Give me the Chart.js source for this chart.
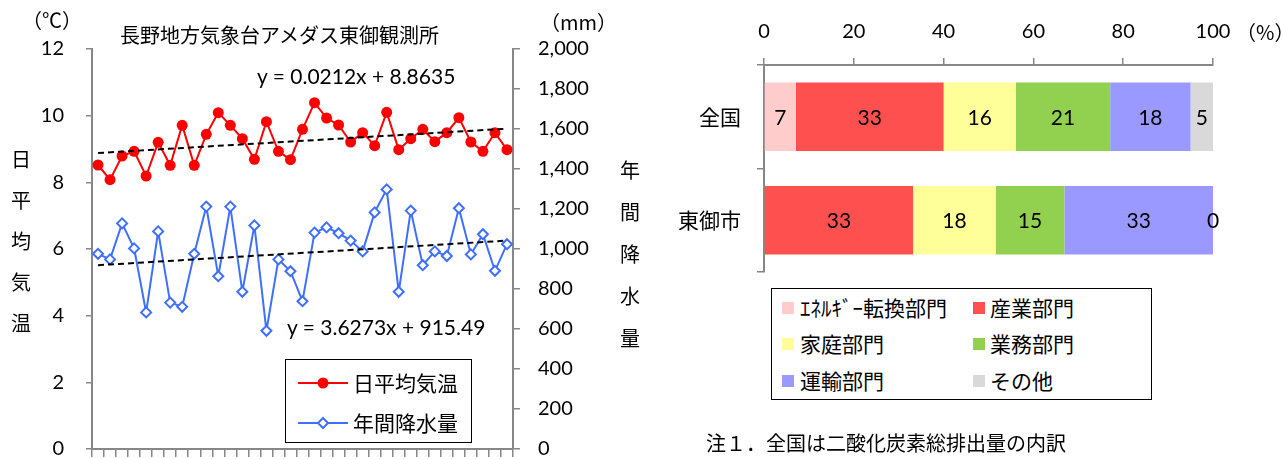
<!DOCTYPE html>
<html lang="ja">
<head>
<meta charset="utf-8">
<script src="https://cdn.jsdelivr.net/npm/chart.js@4.4.0/dist/chart.umd.min.js"></script>
<style>
  body { margin: 0; width: 1283px; height: 459px; background: #fff; position: relative; overflow: hidden;
         font-family: "Noto Sans CJK JP", sans-serif; color: #000; }
  .pane { position: absolute; }
  .t { position: absolute; white-space: nowrap; line-height: 1; }
  .num { font-family: Lato, sans-serif; }
  .vert { position: absolute; width: 22px; text-align: center; }
  .legend { position: absolute; border: 1.5px solid #000; box-sizing: border-box; background: #fff; }
  .sw { position: absolute; width: 12px; height: 12px; }
</style>
</head>
<body>

<div class="pane" style="left:0;top:0;width:660px;height:459px"><canvas id="chartTemp"></canvas></div>
<div class="pane" style="left:660px;top:0;width:623px;height:459px"><canvas id="chartCO2"></canvas></div>

<!-- left chart texts -->
<div class="t" style="left:22px;top:10px;font-size:20px">（℃）</div>
<div class="t" style="left:120px;top:25px;font-size:20px">長野地方気象台アメダス東御観測所</div>
<div class="t" style="left:540px;top:12px;font-size:20px">（mm）</div>
<div class="vert" style="left:10px;top:138px;font-size:20px;line-height:41px">日<br>平<br>均<br>気<br>温</div>
<div class="vert" style="left:619px;top:149px;font-size:20px;line-height:42px">年<br>間<br>降<br>水<br>量</div>
<div class="t num" style="left:257px;top:65px;font-size:21px">y = 0.0212x + 8.8635</div>
<div class="t num" style="left:287px;top:316px;font-size:21px">y = 3.6273x + 915.49</div>

<div class="legend" style="left:285px;top:359px;width:187px;height:84px">
  <svg style="position:absolute;left:12px;top:14px" width="52" height="18">
    <line x1="0" y1="9" x2="50" y2="9" stroke="#FF0000" stroke-width="2"/>
    <circle cx="25" cy="9" r="5.5" fill="#FF0000"/>
  </svg>
  <div class="t" style="left:67px;top:12px;font-size:21px">日平均気温</div>
  <svg style="position:absolute;left:12px;top:54px" width="52" height="18">
    <line x1="0" y1="9" x2="50" y2="9" stroke="#3F6FFF" stroke-width="2"/>
    <path d="M25 4 L30 9 L25 14 L20 9 Z" fill="#fff" stroke="#3F6FFF" stroke-width="2"/>
  </svg>
  <div class="t" style="left:67px;top:52px;font-size:21px">年間降水量</div>
</div>

<!-- right chart texts -->
<div class="t" style="left:1236px;top:22px;font-size:20px">（%）</div>

<div class="legend" style="left:771px;top:288px;width:381px;height:112px">
  <div class="sw" style="left:10px;top:13px;background:#FFCCCC"></div>
  <div class="t" style="left:28px;top:8px;font-size:21px">ｴﾈﾙｷﾞｰ転換部門</div>
  <div class="sw" style="left:201px;top:13px;background:#FF5050"></div>
  <div class="t" style="left:218px;top:8px;font-size:21px">産業部門</div>
  <div class="sw" style="left:10px;top:49px;background:#FFFF99"></div>
  <div class="t" style="left:28px;top:44px;font-size:21px">家庭部門</div>
  <div class="sw" style="left:201px;top:49px;background:#92D050"></div>
  <div class="t" style="left:218px;top:44px;font-size:21px">業務部門</div>
  <div class="sw" style="left:10px;top:86px;background:#9999FF"></div>
  <div class="t" style="left:28px;top:81px;font-size:21px">運輸部門</div>
  <div class="sw" style="left:201px;top:86px;background:#D9D9D9"></div>
  <div class="t" style="left:218px;top:81px;font-size:21px">その他</div>
</div>
<div class="t" style="left:706px;top:433px;font-size:20px">注１．全国は二酸化炭素総排出量の内訳</div>

<script>
// --- left chart: 長野地方気象台アメダス東御観測所 ---
var years = Array.from({ length: 35 }, function (_, i) { return String(i + 1); });
var meanTemp = [8.52, 8.08, 8.79, 8.93, 8.19, 9.20, 8.51, 9.71, 8.51, 9.44,
                10.09, 9.71, 9.31, 8.69, 9.82, 8.93, 8.68, 9.59, 10.39, 9.93,
                9.72, 9.21, 9.49, 9.10, 10.10, 8.98, 9.31, 9.59, 9.22, 9.49,
                9.94, 9.21, 8.93, 9.49, 8.98];
var annualRain = [976, 948, 1128, 1003, 683, 1088, 732, 711, 976, 1212,
                  864, 1212, 786, 1118, 591, 948, 889, 739, 1082, 1108,
                  1079, 1042, 988, 1183, 1298, 786, 1192, 919, 988, 965,
                  1204, 973, 1074, 891, 1024];
// dashed trend lines, value at first and last year
var tempTrendEnds = [8.88, 9.61];
var rainTrendEnds = [919, 1042];
var tempTicks = [0, 2, 4, 6, 8, 10, 12];
var rainTicks = [0, 200, 400, 600, 800, 1000, 1200, 1400, 1600, 1800, 2000];

// --- right chart: CO2 by sector (%) ---
var regions = ["全国", "東御市"];
var energyShare = [7.1, null];
var industryShare = [32.9, 33.2];
var householdShare = [16.1, 18.4];
var businessShare = [21.0, 15.3];
var transportShare = [17.9, 33.1];
var otherShare = [5.0, 0];
var pctTicks = [0, 20, 40, 60, 80, 100];

var AXIS = "#878787";
var BLUE = "#3F6FFF";
var numFont = { family: "Lato", size: 20, lineHeight: 1 };

// fixed axis width, and don't let the label padding push the plot area in
function fixWidth(w) {
  return function (s) {
    s.width = w;
    s.paddingTop = 10;
    s.paddingBottom = 10;
  };
}

new Chart(document.getElementById("chartTemp"), {
  type: "line",
  data: {
    labels: years,
    datasets: [
      {
        label: "日平均気温",
        data: meanTemp,
        yAxisID: "y",
        borderColor: "#FF0000",
        backgroundColor: "#FF0000",
        borderWidth: 2,
        pointStyle: "circle",
        pointRadius: 5.5,
        pointBorderWidth: 0,
        order: 2,
      },
      {
        label: "年間降水量",
        data: annualRain,
        yAxisID: "y1",
        borderColor: BLUE,
        backgroundColor: "#fff",
        pointBackgroundColor: "#fff",
        pointBorderColor: BLUE,
        borderWidth: 2,
        pointStyle: "rectRot",
        pointRadius: 5,
        pointBorderWidth: 2,
        order: 2,
      },
      {
        label: "temp trend",
        data: [
          { x: years[0], y: tempTrendEnds[0] },
          { x: years[years.length - 1], y: tempTrendEnds[1] },
        ],
        yAxisID: "y",
        borderColor: "#000",
        borderDash: [6, 4],
        borderWidth: 2,
        pointRadius: 0,
        order: 1,
      },
      {
        label: "rain trend",
        data: [
          { x: years[0], y: rainTrendEnds[0] },
          { x: years[years.length - 1], y: rainTrendEnds[1] },
        ],
        yAxisID: "y1",
        borderColor: "#000",
        borderDash: [6, 4],
        borderWidth: 2,
        pointRadius: 0,
        order: 1,
      },
    ],
  },
  options: {
    responsive: true,
    maintainAspectRatio: false,
    animation: false,
    layout: { padding: { top: 49, left: 0, right: 0, bottom: 0 } },
    plugins: { legend: { display: false }, tooltip: { enabled: false } },
    scales: {
      x: {
        offset: true,
        grid: { offset: true, drawOnChartArea: false, tickLength: 8, color: AXIS, lineWidth: 1.5 },
        border: { color: AXIS, width: 2 },
        ticks: { callback: function () { return ""; }, padding: 0 },
        afterFit: function (s) { s.height = 10; },
      },
      y: {
        position: "left",
        min: 0,
        max: 12,
        afterBuildTicks: function (s) { s.ticks = tempTicks.map(function (v) { return { value: v }; }); },
        ticks: { padding: 22, font: numFont, color: "#000" },
        grid: { drawOnChartArea: false, tickLength: 6, color: AXIS, lineWidth: 1.5 },
        border: { color: AXIS, width: 2 },
        afterFit: fixWidth(92),
      },
      y1: {
        position: "right",
        min: 0,
        max: 2000,
        afterBuildTicks: function (s) { s.ticks = rainTicks.map(function (v) { return { value: v }; }); },
        ticks: {
          padding: 18,
          font: numFont,
          color: "#000",
          callback: function (v) { return v.toLocaleString("en-US"); },
        },
        grid: { drawOnChartArea: false, tickLength: 7, color: AXIS, lineWidth: 1.5 },
        border: { color: AXIS, width: 2 },
        afterFit: fixWidth(147),
      },
    },
  },
});

// value labels in the middle of each bar segment
var barLabels = {
  id: "barLabels",
  afterDatasetsDraw: function (chart) {
    var ctx = chart.ctx;
    ctx.save();
    ctx.font = "21px Lato";
    ctx.fillStyle = "#000";
    ctx.textAlign = "center";
    ctx.textBaseline = "middle";
    chart.data.datasets.forEach(function (ds, i) {
      chart.getDatasetMeta(i).data.forEach(function (bar, j) {
        var v = ds.data[j];
        if (v === null) return;
        ctx.fillText(Math.round(v), (bar.x + bar.base) / 2, bar.y + 1);
      });
    });
    ctx.restore();
  },
};

function sector(label, values, color) {
  return {
    label: label,
    data: values,
    backgroundColor: color,
    borderWidth: 0,
    categoryPercentage: 1,
    barPercentage: 0.66,
  };
}

new Chart(document.getElementById("chartCO2"), {
  type: "bar",
  data: {
    labels: regions,
    datasets: [
      sector("ｴﾈﾙｷﾞｰ転換部門", energyShare, "#FFCCCC"),
      sector("産業部門", industryShare, "#FF5050"),
      sector("家庭部門", householdShare, "#FFFF99"),
      sector("業務部門", businessShare, "#92D050"),
      sector("運輸部門", transportShare, "#9999FF"),
      sector("その他", otherShare, "#D9D9D9"),
    ],
  },
  plugins: [barLabels],
  options: {
    indexAxis: "y",
    responsive: true,
    maintainAspectRatio: false,
    animation: false,
    layout: { padding: { top: 0, left: 0, right: 70, bottom: 187 } },
    plugins: { legend: { display: false }, tooltip: { enabled: false } },
    scales: {
      x: {
        position: "top",
        stacked: true,
        min: 0,
        max: 100,
        afterBuildTicks: function (s) { s.ticks = pctTicks.map(function (v) { return { value: v }; }); },
        ticks: { padding: 16, font: numFont, color: "#000" },
        grid: { drawOnChartArea: false, tickLength: 7, color: AXIS, lineWidth: 1.5 },
        border: { color: AXIS, width: 2 },
        afterFit: function (s) { s.height = 65; },
      },
      y: {
        stacked: true,
        grid: { offset: true, drawOnChartArea: false, tickLength: 7, color: AXIS, lineWidth: 1.5 },
        border: { color: AXIS, width: 2 },
        ticks: { padding: 16, font: { family: "Noto Sans CJK JP", size: 21, lineHeight: 1 }, color: "#000" },
        afterFit: function (s) { s.width = 104; },
      },
    },
  },
});
</script>
</body>
</html>
